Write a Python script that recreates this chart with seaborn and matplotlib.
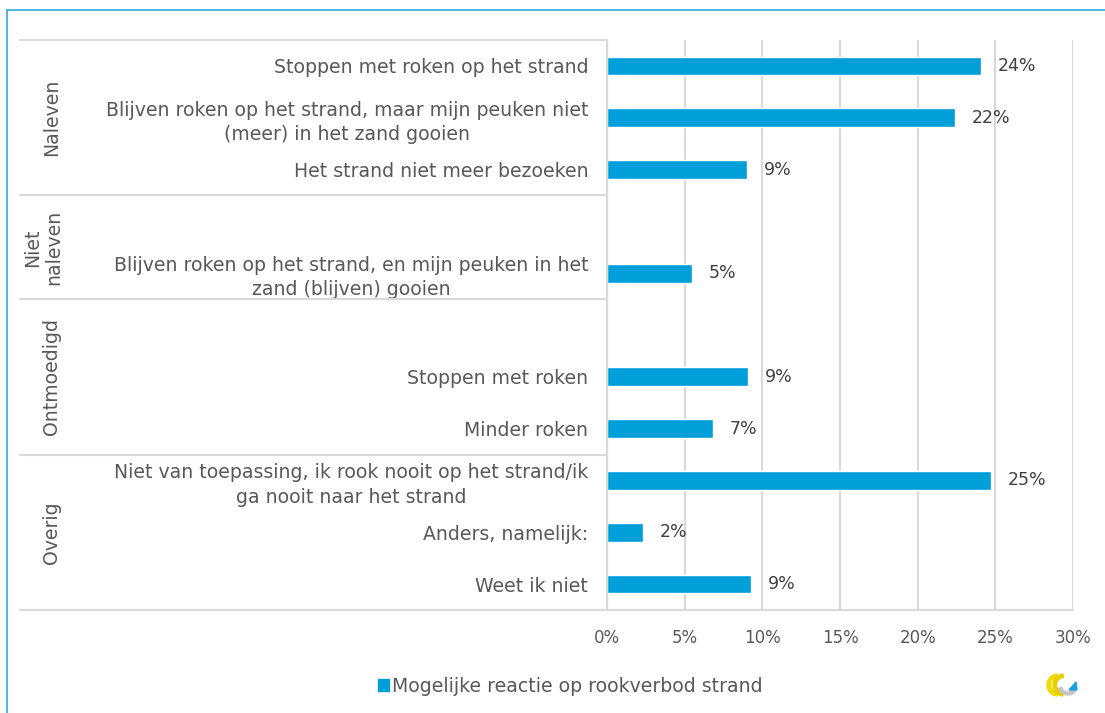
import pandas as pd
import matplotlib
matplotlib.use("Agg")
import matplotlib.pyplot as plt
import matplotlib.transforms as mtransforms
from matplotlib.lines import Line2D
from matplotlib.patches import Rectangle, Wedge, Polygon
import seaborn as sns

sns.set_theme(style="white")
plt.rcParams['font.family'] = ['DejaVu Sans']

# ==========================================
# DATA
# ==========================================
# lege plekken ("_leeg...") geven de witruimte tussen de groepen
slots = ["Stoppen op strand", "Peuken niet in zand", "Strand niet bezoeken",
         "_leeg1", "Peuken in zand",
         "_leeg2", "Stoppen met roken", "Minder roken",
         "Niet van toepassing", "Anders", "Weet ik niet"]
slot_labels = ["Stoppen met roken op het strand",
               "Blijven roken op het strand, maar mijn peuken niet\n(meer) in het zand gooien",
               "Het strand niet meer bezoeken",
               "",
               "Blijven roken op het strand, en mijn peuken in het\nzand (blijven) gooien",
               "",
               "Stoppen met roken",
               "Minder roken",
               "Niet van toepassing, ik rook nooit op het strand/ik\nga nooit naar het strand",
               "Anders, namelijk:",
               "Weet ik niet"]
categories = ["Stoppen op strand", "Peuken niet in zand", "Strand niet bezoeken",
              "Peuken in zand", "Stoppen met roken", "Minder roken",
              "Niet van toepassing", "Anders", "Weet ik niet"]
values = [24.1, 22.4, 9.0, 5.5, 9.1, 6.8, 24.7, 2.3, 9.3]
value_labels = ["24%", "22%", "9%", "5%", "9%", "7%", "25%", "2%", "9%"]

groups = ["Naleven", "Niet\nnaleven", "Ontmoedigd", "Overig"]
group_start = [0, 3, 5, 8]
group_end = [2, 4, 7, 10]
group_x = [52, 43, 52, 52]

series_name = "Mogelijke reactie op rookverbod strand"

df = pd.DataFrame({"categorie": categories, "waarde": values})

blauw = "#009FDA"
tekst = "#595959"
lijn = "#D9D9D9"
fs = 13.6

# ==========================================
# FIGUUR
# ==========================================
fig = plt.figure(figsize=(11.05, 7.13), dpi=100)
ax = fig.add_axes([607 / 1105, 1 - 610 / 713, (1073 - 607) / 1105, (610 - 40) / 713])

sns.barplot(data=df, x="waarde", y="categorie", order=slots, color=blauw,
            width=0.36, saturation=1, ax=ax)

ax.set_xlim(0, 30)
ax.set_ylim(len(slots) - 0.5, -0.5)
ax.set_xticks(range(0, 31, 5))
ax.set_xticklabels([f"{t}%" for t in range(0, 31, 5)])
ax.set_yticks(range(len(slots)))
ax.set_yticklabels(slot_labels, multialignment="center", linespacing=1.35)
ax.set_xlabel("")
ax.set_ylabel("")

ax.tick_params(axis="y", length=0, pad=13.5, labelsize=fs, labelcolor=tekst)
ax.tick_params(axis="x", length=0, pad=14, labelsize=12, labelcolor=tekst)

ax.grid(axis="x", color=lijn, linewidth=1.5)
ax.set_axisbelow(True)
for side in ["top", "right", "bottom"]:
    ax.spines[side].set_visible(False)
ax.spines["left"].set_color(lijn)
ax.spines["left"].set_linewidth(1.5)

# waardelabels
for cont in ax.containers:
    ax.bar_label(cont, labels=value_labels, padding=12, fontsize=12.5, color="#404040")

# tabel-lijnen links en groepsnamen
trans = mtransforms.blended_transform_factory(fig.transFigure, ax.transData)
x0 = 20 / 1105
xa = 607 / 1105
for yb in [-0.5, 2.5, 4.5, 7.5]:
    fig.add_artist(Line2D([x0, xa], [yb, yb], transform=trans, color=lijn, lw=1.5))
fig.add_artist(Line2D([x0, 1073 / 1105], [10.5, 10.5], transform=trans, color=lijn, lw=1.5))

for g, s, e, gx in zip(groups, group_start, group_end, group_x):
    fig.text(gx / 1105, (s + e) / 2, g, transform=trans, rotation=90,
             ha="center", va="center", fontsize=fs, color=tekst,
             multialignment="center", linespacing=1.15)

# legenda
fig.legend(handles=[Rectangle((0, 0), 1, 1, color=blauw)], labels=[series_name],
           loc="center", bbox_to_anchor=(0.516, 1 - 686 / 713), frameon=False,
           fontsize=fs, labelcolor=tekst, handlelength=0.6, handleheight=0.6,
           handletextpad=0.15)

# kader
fig.add_artist(Line2D([7 / 1105, 7 / 1105], [0, 1 - 10 / 713], color="#29ABE2", lw=1.2))
fig.add_artist(Line2D([7 / 1105, 1], [1 - 10 / 713, 1 - 10 / 713], color="#29ABE2", lw=1.2))

# logo rechtsonder (eenvoudige benadering)
logo = fig.add_axes([1046 / 1105, 1 - 700 / 713, 32 / 1105, 30 / 713])
logo.set_xlim(0, 32)
logo.set_ylim(0, 30)
logo.set_aspect("equal")
logo.axis("off")
logo.add_patch(Wedge((12, 15), 11, 95, 265, width=3.5, color="#F2DA00"))
logo.add_patch(Wedge((18, 15), 11, 95, 265, width=3.5, color="#E6D000"))
logo.add_patch(Wedge((22, 15), 10, 200, 320, width=3, color="#C4C4C4"))
logo.add_patch(Polygon([[23, 10], [31, 10], [30, 18]], color="#1E9FE0"))

fig.savefig("out.png", dpi=100, facecolor="white")
